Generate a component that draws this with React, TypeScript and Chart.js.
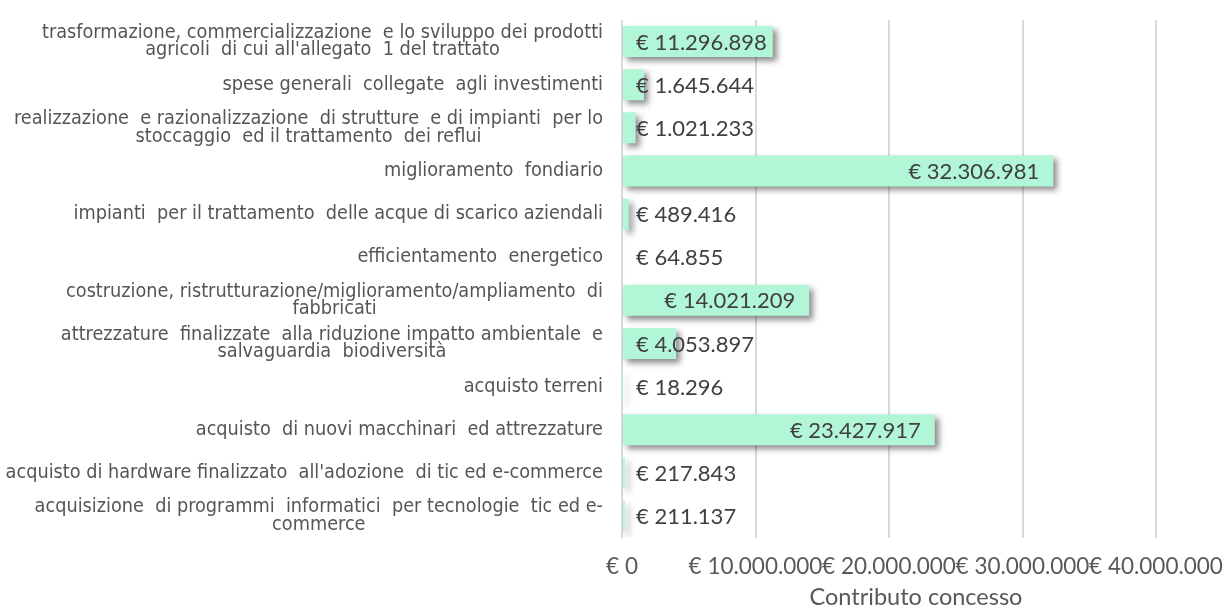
import { useEffect, useRef } from "react";
import { Chart, registerables } from "chart.js";

Chart.register(...registerables);

const categories: string[][] = [
  ["trasformazione, commercializzazione  e lo sviluppo dei prodotti", "agricoli  di cui all'allegato  1 del trattato"],
  ["spese generali  collegate  agli investimenti"],
  ["realizzazione  e razionalizzazione  di strutture  e di impianti  per lo", "stoccaggio  ed il trattamento  dei reflui"],
  ["miglioramento  fondiario"],
  ["impianti  per il trattamento  delle acque di scarico aziendali"],
  ["efficientamento  energetico"],
  ["costruzione, ristrutturazione/miglioramento/ampliamento  di", "fabbricati"],
  ["attrezzature  finalizzate  alla riduzione impatto ambientale  e", "salvaguardia  biodiversità"],
  ["acquisto terreni"],
  ["acquisto  di nuovi macchinari  ed attrezzature"],
  ["acquisto di hardware finalizzato  all'adozione  di tic ed e-commerce"],
  ["acquisizione  di programmi  informatici  per tecnologie  tic ed e-", "commerce"],
];

const values: number[] = [
  11296898, 1645644, 1021233, 32306981, 489416, 64855,
  14021209, 4053897, 18296, 23427917, 217843, 211137,
];

const xTicks: number[] = [0, 10000000, 20000000, 30000000, 40000000];
const axisTitle = "Contributo concesso";

const fmt = (v: number) =>
  "€ " + Math.round(v).toString().replace(/\B(?=(\d{3})+(?!\d))/g, ".");

const BAR_COLOR = "#b2f6d8";
const LABEL_FONT = "22px Lato, 'Open Sans', sans-serif";
const TITLE_FONT = "23.5px Lato, 'Open Sans', sans-serif";
const CAT_FONT = "19.7px 'Liberation Sans Narrow', 'DejaVu Sans Condensed', sans-serif";

const customPlugin = {
  id: "custom",
  beforeDatasetsDraw(chart: any) {
    const ctx = chart.ctx;
    ctx.save();
    ctx.shadowColor = "rgba(0,0,0,0.45)";
    ctx.shadowBlur = 6;
    ctx.shadowOffsetX = 4;
    ctx.shadowOffsetY = 4;
  },
  afterDatasetsDraw(chart: any) {
    const ctx = chart.ctx;
    ctx.restore();
    const meta = chart.getDatasetMeta(0);
    const xs = chart.scales.x;
    const base = xs.getPixelForValue(0);
    ctx.save();
    ctx.font = LABEL_FONT;
    ctx.fillStyle = "#404040";
    ctx.textBaseline = "middle";
    ctx.textAlign = "left";
    meta.data.forEach((bar: any, i: number) => {
      const txt = fmt(values[i]);
      const w = ctx.measureText(txt).width;
      const end = xs.getPixelForValue(values[i]);
      const left = Math.max(base + 14, end - 14 - w);
      ctx.fillText(txt, left, bar.y + 1);
    });
    ctx.restore();
  },
  afterDraw(chart: any) {
    const ctx = chart.ctx;
    const ys = chart.scales.y;
    ctx.save();
    ctx.font = CAT_FONT;
    ctx.fillStyle = "#555555";
    ctx.textBaseline = "middle";
    ctx.textAlign = "center";
    const right = 603;
    const lh = 17.5;
    categories.forEach((lines, i) => {
      const cy = ys.getPixelForValue(i);
      const maxW = Math.max(...lines.map((l) => ctx.measureText(l).width));
      const cx = right - maxW / 2;
      const y0 = cy - ((lines.length - 1) * lh) / 2;
      lines.forEach((l, j) => ctx.fillText(l, cx, y0 + j * lh));
    });
    ctx.font = TITLE_FONT;
    ctx.fillStyle = "#595959";
    ctx.fillText(axisTitle, 916, 597);
    ctx.restore();
  },
};

export default function App() {
  const ref = useRef<HTMLCanvasElement | null>(null);
  useEffect(() => {
    document.body.style.margin = "0";
    if (!ref.current) return;
    const chart = new Chart(ref.current, {
      type: "bar",
      data: {
        labels: categories.map((c) => c.join(" ")),
        datasets: [
          {
            data: values,
            backgroundColor: BAR_COLOR,
            borderWidth: 0,
            barPercentage: 0.72,
            categoryPercentage: 1,
          },
        ],
      },
      options: {
        indexAxis: "y",
        animation: false,
        responsive: false,
        layout: { padding: { top: 20, right: 68, left: 0, bottom: 0 } },
        plugins: {
          legend: { display: false },
          tooltip: { enabled: false },
        },
        scales: {
          y: {
            type: "category",
            ticks: { display: false },
            grid: { display: false },
            border: { display: false },
            afterFit: (s: any) => {
              s.width = 622;
            },
          },
          x: {
            min: 0,
            max: 40000000,
            afterBuildTicks: (s: any) => {
              s.ticks = xTicks.map((v) => ({ value: v }));
            },
            ticks: {
              callback: (v: any) => fmt(Number(v)),
              font: { family: "Lato, 'Open Sans', sans-serif", size: 22.5 },
              color: "#595959",
              padding: 16,
              maxRotation: 0,
              autoSkip: false,
            },
            grid: { color: "#d9d9d9", lineWidth: 2, drawTicks: false },
            border: { display: false },
            afterFit: (s: any) => {
              s.height = 76.5;
              s.paddingLeft = 0;
              s.paddingRight = 0;
            },
          },
        },
      },
      plugins: [customPlugin],
    });
    return () => chart.destroy();
  }, []);
  return <canvas ref={ref} width={1224} height={614} style={{ display: "block" }} />;
}
